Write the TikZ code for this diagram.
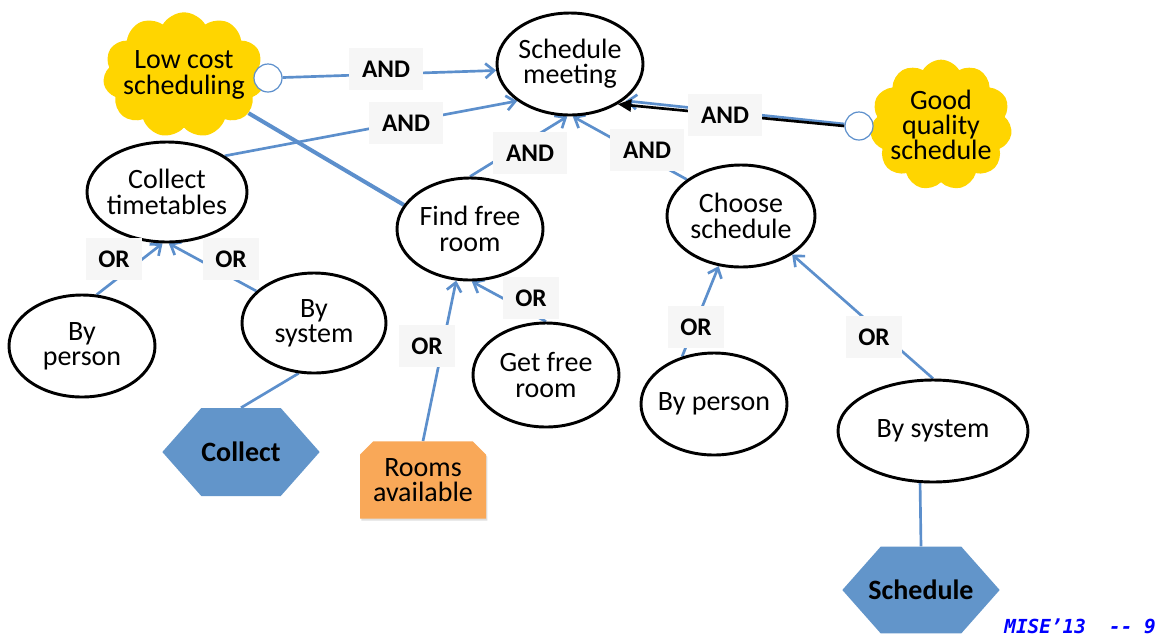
\documentclass[tikz,border=0pt]{standalone}
\usepackage{fontspec}
\setmainfont{Carlito}
\newfontfamily\footfont{DejaVu Sans Mono}
\usetikzlibrary{shapes.geometric,shapes.symbols,shapes.misc,arrows.meta,shadows}
\definecolor{linkblue}{RGB}{92,143,204}
\definecolor{hexblue}{RGB}{98,149,202}
\definecolor{goalyellow}{RGB}{255,213,0}
\definecolor{resorange}{RGB}{249,168,88}
\definecolor{tagbg}{RGB}{246,246,246}
\pgfdeclarelayer{links}
\pgfsetlayers{links,main}

\begin{document}
\begin{tikzpicture}[x=0.75pt,y=-0.75pt,
  txt/.style={font=\fontsize{21}{19}\selectfont, align=center},
  goal/.style={txt, ellipse, draw, line width=2.2pt, fill=white,
    inner xsep=-14pt, inner ysep=-10pt},
  softgoal/.style={txt, cloud, cloud puffs=11, cloud puff arc=120,
    cloud ignores aspect, fill=goalyellow, inner sep=-20pt},
  knob/.style={circle, draw=linkblue, line width=0.9pt, fill=white,
    minimum size=21pt, inner sep=0pt},
  task/.style={signal, signal to=west and east, signal pointer angle=97,
    fill=hexblue, font=\fontsize{21}{21}\selectfont\bfseries,
    minimum width=118pt, inner xsep=-25pt, inner ysep=0pt},
  resource/.style={txt, chamfered rectangle,
    chamfered rectangle corners={north west,north east},
    chamfered rectangle xsep=5pt, chamfered rectangle ysep=5pt,
    fill=resorange, minimum width=94.5pt, minimum height=58pt,
    drop shadow={opacity=0.25, shadow xshift=1pt, shadow yshift=-1.5pt}},
  tag/.style={fill=tagbg, font=\fontsize{19}{19}\selectfont\bfseries,
    inner xsep=9.5pt, inner ysep=0pt, minimum height=32pt},
  rel/.style={draw=linkblue, line width=2pt,
    -{Straight Barb[length=6.5pt,width=11pt]}},
  plain/.style={draw=linkblue, line width=2pt}
]
\useasboundingbox (0,0) rectangle (1160,637);

% soft goals
\node[softgoal, minimum width=121.5pt, minimum height=94pt] (lc) at (184,75) {Low cost\\scheduling};
\node[softgoal, minimum width=106.5pt, minimum height=98pt] (gq) at (941,125) {Good\\quality\\schedule};
\node[knob] (lcc) at (268,78) {};
\node[knob] (gqc) at (859,126) {};

% goals
\node[goal, minimum width=109.5pt, minimum height=76.5pt] (sm) at (570,64) {Schedule\\meeting};
\node[goal, minimum width=120pt, minimum height=75pt] (ct) at (167,192) {Collect\\timetables};
\node[goal, minimum width=109.5pt, minimum height=76.5pt] (bp1) at (82,346) {By\\person};
\node[goal, minimum width=108pt, minimum height=75pt] (bs1) at (314,323) {By\\system};
\node[goal, minimum width=109.5pt, minimum height=76.5pt] (ff) at (470,229) {Find free\\room};
\node[goal, minimum width=109.5pt, minimum height=78pt] (gf) at (546,375) {Get free\\room};
\node[goal, minimum width=111pt, minimum height=76.5pt] (cs) at (741,216) {Choose\\schedule};
\node[goal, minimum width=109.5pt, minimum height=76.5pt] (bp2) at (714,404) {By person};
\node[goal, minimum width=142.5pt, minimum height=76.5pt] (bs2) at (933,431) {By system};

% tasks and resource
\node[task, minimum height=66pt] (ch) at (241,452) {Collect};
\node[task, minimum height=65pt] (sh) at (921,590) {Schedule};
\node[resource] (ra) at (423,480) {Rooms\\available};

% decomposition links, drawn beneath the nodes
\begin{pgfonlayer}{links}
  \fill[white] (0,0) rectangle (1160,637);
  \draw[rel] (lcc) -- (sm.185);
  \draw[rel] (ct.32) -- (sm.215);
  \draw[rel] (ff.north) -- (sm.267);
  \draw[rel] (cs.146) -- (sm.273);
  \draw[rel] ([yshift=1.5pt]gqc.west) -- ([xshift=6pt,yshift=2.5pt]sm.320);
  \draw[line width=2pt, -{Triangle[length=10pt,width=9pt]}] (gqc.west) -- (sm.320);
  \draw[draw=linkblue, line width=3pt] (lc) -- (ff.160);
  \draw[rel] (bp1.74) -- (ct.265);
  \draw[rel] (bs1.151) -- (ct.272);
  \draw[plain] (bs1.253) -- (ch.north);
  \draw[rel] (ra.north) -- (ff.255);
  \draw[rel] (gf.north) -- (ff.272);
  \draw[rel] (bp2.124) -- (cs.246);
  \draw[rel] (bs2.north) -- (cs.323);
  \draw[plain] (bs2.256) -- (sh.north);
\end{pgfonlayer}

% link labels
\node[tag] (and1) at (386,69) {AND};
\node[tag] (and2) at (406,123) {AND};
\node[tag] (and3) at (530,153) {AND};
\node[tag] (and4) at (647,150) {AND};
\node[tag] (and5) at (725,115) {AND};
\node[tag] (or1) at (114,259) {OR};
\node[tag] (or2) at (231,259) {OR};
\node[tag] (or3) at (531,298) {OR};
\node[tag] (or4) at (427,346) {OR};
\node[tag] (or5) at (696,327) {OR};
\node[tag] (or6) at (874,337) {OR};

% slide footer
\node[anchor=base east, inner sep=0pt, text=blue,
  font=\footfont\fontsize{14.5}{15}\selectfont\bfseries\itshape] (foot) at (1156,633) {MISE’13\ \ {-}{-}\ 9};
\end{tikzpicture}
\end{document}
